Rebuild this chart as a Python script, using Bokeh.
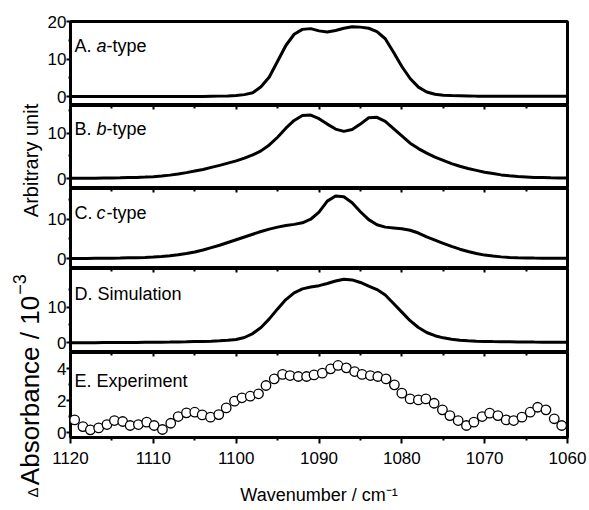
from bokeh.plotting import figure
from bokeh.models import Range1d, FixedTicker, LinearAxis, Label
from bokeh.layouts import column, row
from bokeh.core.properties import value
from bokeh.embed import file_html
from bokeh.resources import INLINE

# ---------------- data ----------------
wavenumber = [1120, 1119, 1118, 1117, 1116, 1115, 1114, 1113, 1112, 1111,
              1110, 1109, 1108, 1107, 1106, 1105, 1104, 1103, 1102, 1101,
              1100, 1099, 1098, 1097, 1096, 1095, 1094, 1093, 1092, 1091,
              1090, 1089, 1088, 1087, 1086, 1085, 1084, 1083, 1082, 1081,
              1080, 1079, 1078, 1077, 1076, 1075, 1074, 1073, 1072, 1071,
              1070, 1069, 1068, 1067, 1066, 1065, 1064, 1063, 1062, 1061, 1060]

a_type = [0.0, 0.0, 0.0, 0.0, 0.0, 0.0, 0.0, 0.0, 0.0, 0.0,
          0.0, 0.0, 0.0, 0.0, 0.0, 0.0, 0.0, 0.05, 0.1, 0.15,
          0.25, 0.5, 1.0, 2.6, 5.2, 9.4, 13.6, 16.6, 17.9, 18.1,
          17.5, 17.2, 17.6, 18.2, 18.6, 18.5, 18.2, 17.3, 15.4, 11.8,
          8.0, 4.8, 2.5, 1.2, 0.6, 0.35, 0.25, 0.2, 0.15, 0.1,
          0.1, 0.1, 0.1, 0.1, 0.1, 0.1, 0.1, 0.1, 0.1, 0.1, 0.1]

b_type = [0.05, 0.05, 0.07, 0.08, 0.1, 0.12, 0.15, 0.2, 0.25, 0.32,
          0.4, 0.55, 0.75, 1.0, 1.3, 1.65, 2.0, 2.45, 2.9, 3.4,
          3.9, 4.5, 5.2, 6.1, 7.4, 9.1, 11.1, 12.8, 13.9, 14.0,
          13.2, 12.0, 10.9, 10.4, 10.8, 12.0, 13.4, 13.5, 12.6, 11.0,
          9.4, 7.8, 6.6, 5.6, 4.7, 4.0, 3.3, 2.7, 2.2, 1.8,
          1.4, 1.1, 0.8, 0.6, 0.45, 0.35, 0.25, 0.2, 0.15, 0.12, 0.1]

c_type = [0.05, 0.05, 0.06, 0.08, 0.1, 0.12, 0.15, 0.2, 0.25, 0.32,
          0.4, 0.55, 0.75, 1.0, 1.3, 1.7, 2.2, 2.8, 3.4, 4.1,
          4.8, 5.5, 6.2, 6.9, 7.5, 8.0, 8.4, 8.7, 9.1, 10.0,
          11.8, 14.6, 15.9, 15.7, 14.2, 11.9, 9.9, 8.6, 8.0, 7.8,
          7.6, 7.2, 6.5, 5.5, 4.7, 3.9, 3.1, 2.4, 1.8, 1.3,
          0.9, 0.65, 0.45, 0.32, 0.24, 0.18, 0.14, 0.12, 0.1, 0.1, 0.1]

simulation = [0.05, 0.05, 0.05, 0.06, 0.07, 0.08, 0.09, 0.1, 0.12, 0.14,
              0.16, 0.19, 0.22, 0.26, 0.3, 0.35, 0.4, 0.47, 0.56, 0.7,
              0.95, 1.5, 2.6, 4.3, 6.7, 9.5, 12.1, 14.0, 15.1, 15.6,
              16.0, 16.6, 17.3, 17.8, 17.6, 16.9, 15.9, 14.9, 13.4, 11.0,
              8.6, 6.2, 4.3, 2.9, 2.0, 1.4, 1.0, 0.75, 0.58, 0.47,
              0.4, 0.35, 0.31, 0.28, 0.25, 0.23, 0.21, 0.2, 0.19, 0.18, 0.17]

exp_wavenumber = [1119.5, 1118.5, 1117.6, 1116.6, 1115.6, 1114.7, 1113.7, 1112.8, 1111.8, 1110.8,
                  1109.9, 1108.9, 1107.9, 1107.0, 1106.0, 1105.0, 1104.1, 1103.1, 1102.1, 1101.2,
                  1100.2, 1099.3, 1098.3, 1097.3, 1096.4, 1095.4, 1094.4, 1093.5, 1092.5, 1091.5,
                  1090.6, 1089.6, 1088.6, 1087.7, 1086.7, 1085.7, 1084.8, 1083.8, 1082.9, 1081.9,
                  1080.9, 1080.0, 1079.0, 1078.0, 1077.1, 1076.1, 1075.1, 1074.2, 1073.2, 1072.2,
                  1071.3, 1070.3, 1069.4, 1068.4, 1067.4, 1066.5, 1065.5, 1064.5, 1063.6, 1062.6,
                  1061.6, 1060.7]

experiment = [0.79, 0.37, 0.17, 0.29, 0.50, 0.75, 0.69, 0.44, 0.50, 0.65,
              0.44, 0.19, 0.58, 1.00, 1.23, 1.27, 1.10, 0.96, 1.12, 1.54,
              1.96, 2.17, 2.27, 2.42, 2.94, 3.35, 3.63, 3.56, 3.50, 3.50,
              3.60, 3.71, 3.98, 4.19, 4.04, 3.81, 3.63, 3.56, 3.50, 3.35,
              2.98, 2.46, 2.10, 2.04, 2.10, 1.83, 1.42, 1.06, 0.75, 0.44,
              0.65, 1.00, 1.21, 1.06, 0.79, 0.75, 0.96, 1.27, 1.58, 1.42,
              0.86, 0.44]

x_major_ticks = [1120, 1110, 1100, 1090, 1080, 1070, 1060]
x_minor_ticks = [1115, 1105, 1095, 1085, 1075, 1065]

panel_prefix = ["A. ", "B. ", "C. ", "D. Simulation", "E. Experiment"]
panel_italic = ["a", "b", "c", "", ""]
panel_suffix = ["-type", "-type", "-type", "", ""]

x_title = "Wavenumber / cm\u207b\u00b9"
left_titles = ["Arbitrary unit", "\u0394", "Absorbance / 10", "\u22123"]

# ---------------- style ----------------
FONT = "Liberation Sans"
TICK_FS = "17px"
LAB_FS = "18px"
FRAME_W = 499
LEFT_B = 24
RIGHT_B = 21
PANEL_W = LEFT_B + FRAME_W + RIGHT_B

xr = Range1d(1120, 1060)


def style_y(p, ticks, minor):
    ax = p.yaxis[0]
    ax.ticker = FixedTicker(ticks=ticks, minor_ticks=minor)
    ax.axis_line_color = None
    ax.major_tick_out = 4
    ax.major_tick_in = 0
    ax.major_tick_line_width = 2
    ax.minor_tick_out = 2
    ax.minor_tick_in = 0
    ax.minor_tick_line_width = 2
    ax.major_label_standoff = 0
    ax.major_label_text_font = FONT
    ax.major_label_text_font_size = TICK_FS
    ax.major_label_text_color = "black"


def panel(idx, yr, ticks, minor, frame_h, top_b, bot_b, top_ticks, label_y):
    p = figure(width=PANEL_W, height=frame_h + top_b + bot_b, x_range=xr, y_range=yr,
               output_backend="svg", toolbar_location=None, title=None,
               x_axis_location=None,
               min_border_left=LEFT_B, min_border_right=RIGHT_B,
               min_border_top=top_b, min_border_bottom=bot_b)
    p.xgrid.visible = False
    p.ygrid.visible = False
    p.outline_line_color = "black"
    p.outline_line_width = 3
    p.outline_line_alpha = 1
    p.background_fill_color = "white"
    p.border_fill_color = "white"
    style_y(p, ticks, minor)
    if top_ticks:
        t = LinearAxis(ticker=FixedTicker(ticks=x_major_ticks, minor_ticks=x_minor_ticks))
        t.axis_line_color = None
        t.major_tick_in = 4
        t.major_tick_out = 0
        t.major_tick_line_width = 2
        t.minor_tick_in = 3
        t.minor_tick_out = 0
        t.minor_tick_line_width = 2
        t.major_label_text_font_size = "0px"
        t.major_label_text_color = None
        t.major_label_standoff = 0
        p.add_layout(t, "above")
    x0 = 4
    p.add_layout(Label(x=x0, y=label_y, x_units="screen", y_units="screen",
                       text=panel_prefix[idx], text_font=FONT, text_font_size=LAB_FS,
                       text_color="black", text_baseline="alphabetic"))
    if panel_italic[idx]:
        w_prefix = 22
        p.add_layout(Label(x=x0 + w_prefix, y=label_y, x_units="screen", y_units="screen",
                           text=panel_italic[idx], text_font=FONT, text_font_size=LAB_FS,
                           text_font_style="italic", text_color="black",
                           text_baseline="alphabetic"))
        p.add_layout(Label(x=x0 + w_prefix + 10, y=label_y, x_units="screen", y_units="screen",
                           text=panel_suffix[idx], text_font=FONT, text_font_size=LAB_FS,
                           text_color="black", text_baseline="alphabetic"))
    return p


pA = panel(0, Range1d(-2.4, 20), [0, 10, 20], [5, 15], 84, 21, 0, False, 60)
pA.line(wavenumber, a_type, line_color="black", line_width=3)

pB = panel(1, Range1d(-2.2, 16.1), [0, 10], [5, 15], 83, 0, 0, True, 60)
pB.line(wavenumber, b_type, line_color="black", line_width=3)

pC = panel(2, Range1d(-2.5, 17.8), [0, 10], [5, 15], 80, 0, 0, True, 56)
pC.line(wavenumber, c_type, line_color="black", line_width=3)

pD = panel(3, Range1d(-2.7, 20.8), [0, 10], [5, 15], 84, 0, 0, True, 59)
pD.line(wavenumber, simulation, line_color="black", line_width=3)

E_BOTTOM = 73
pE = panel(4, Range1d(-0.31, 5.0), [0, 2, 4], [1, 3], 85, 0, E_BOTTOM, True, 57)
pE.scatter(exp_wavenumber, experiment, marker="circle", size=9.5,
           fill_color="white", line_color="black", line_width=1.3)

bx = LinearAxis(ticker=FixedTicker(ticks=x_major_ticks, minor_ticks=x_minor_ticks))
bx.axis_line_color = None
bx.major_tick_out = 6
bx.major_tick_in = 0
bx.major_tick_line_width = 2
bx.minor_tick_out = 3
bx.minor_tick_in = 0
bx.minor_tick_line_width = 2
bx.major_label_standoff = 8
bx.major_label_text_font = FONT
bx.major_label_text_font_size = TICK_FS
bx.major_label_text_color = "black"
bx.axis_label = x_title
bx.axis_label_text_font = FONT
bx.axis_label_text_font_size = "18px"
bx.axis_label_text_font_style = "normal"
bx.axis_label_text_color = "black"
bx.axis_label_standoff = 18
pE.add_layout(bx, "below")

# ---------------- left titles ----------------
LW = 44
TOTAL_H = 105 + 83 + 80 + 84 + 85 + E_BOTTOM
pL = figure(width=LW, height=TOTAL_H, x_range=Range1d(0, LW), y_range=Range1d(0, TOTAL_H),
            output_backend="svg", toolbar_location=None, title=None,
            x_axis_location=None, y_axis_location=None,
            min_border_left=0, min_border_right=0, min_border_top=0, min_border_bottom=0)
pL.outline_line_color = None
pL.grid.visible = False
pL.background_fill_color = "white"

title_x = [30, 32, 29, 19]
title_y = [TOTAL_H - 160, TOTAL_H - 492, TOTAL_H - 390, TOTAL_H - 284]
title_fs = ["20px", "15px", "26px", "18px"]
for i in range(4):
    pL.text(x=[title_x[i]], y=[title_y[i]], text=[left_titles[i]],
            angle=90, angle_units="deg",
            text_align="center", text_baseline="middle",
            text_font=value(FONT), text_font_size=value(title_fs[i]),
            text_color="black")

layout = row(pL, column(pA, pB, pC, pD, pE, spacing=0), spacing=0)

open("out.html", "w").write(file_html(layout, INLINE))
